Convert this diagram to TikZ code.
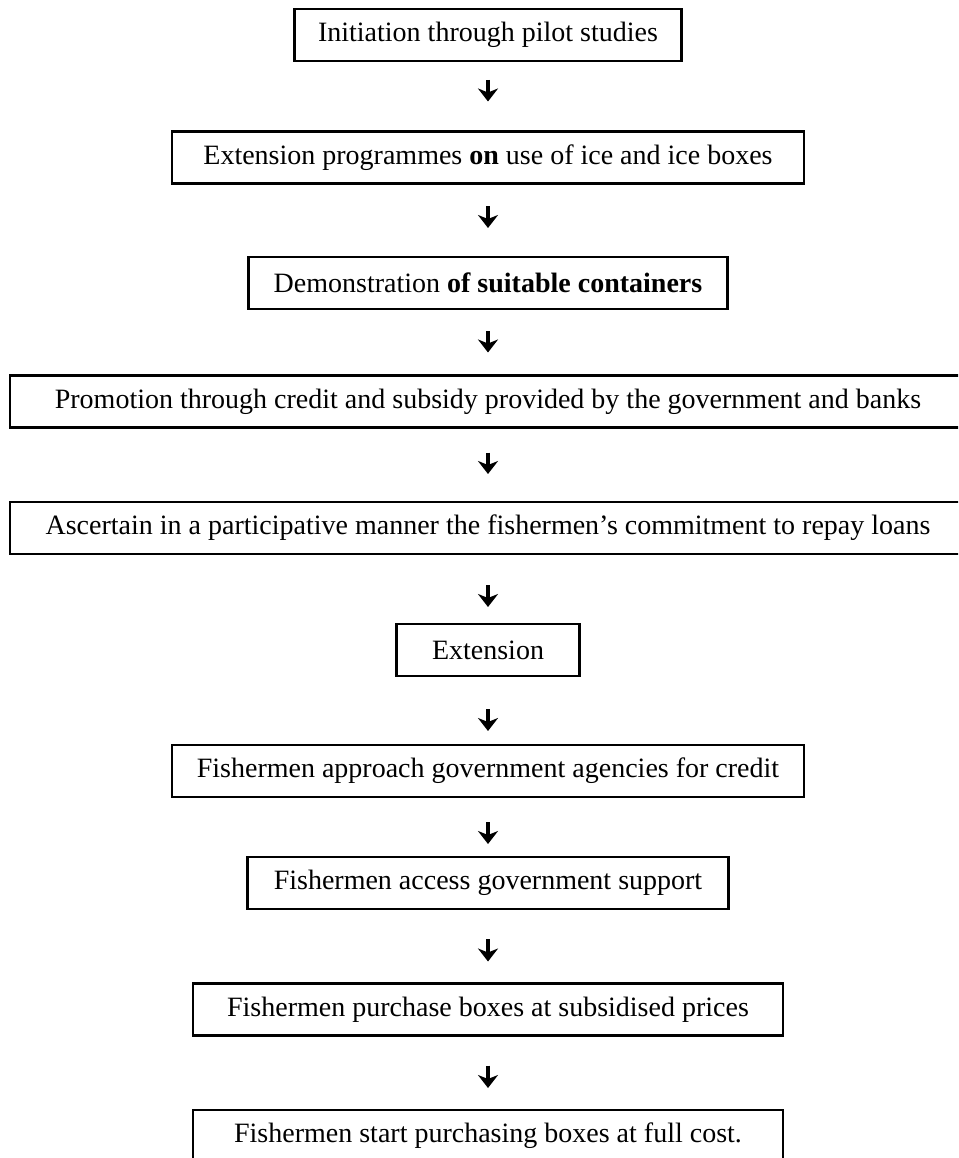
\documentclass[tikz,border=0pt]{standalone}
\usepackage{fontspec}
\setmainfont{Liberation Serif}
\usetikzlibrary{arrows.meta}

\begin{document}
\begin{tikzpicture}[x=1pt, y=-1pt,
  stepbox/.style={draw, line width=2.2pt, inner sep=0pt, outer sep=0pt,
    minimum height=52pt, align=center,
    font=\fontsize{28}{32}\selectfont},
  flow/.style 2 args={line width=4pt,
    -{Stealth[width=20pt, length=13pt, inset=4pt]},
    shorten <=#1pt, shorten >=#2pt}]

\useasboundingbox (0,0) rectangle (958,1158);
\clip (0,0) rectangle (958,1158);

% process steps, top to bottom
\node[stepbox, minimum width=387pt] (s1) at (488,35)
  {Initiation through pilot studies};
\node[stepbox, minimum width=632pt] (s2) at (488,157.5)
  {Extension programmes \textbf{on} use of ice and ice boxes};
\node[stepbox, minimum width=479pt] (s3) at (488,283)
  {Demonstration \textbf{of suitable containers}};
\node[stepbox, minimum width=956pt] (s4) at (488,401.5)
  {Promotion through credit and subsidy provided by the government and banks};
\node[stepbox, minimum width=956pt] (s5) at (488,528)
  {Ascertain in a participative manner the fishermen’s commitment to repay loans};
\node[stepbox, minimum width=183pt] (s6) at (488,650)
  {Extension};
\node[stepbox, minimum width=632pt] (s7) at (488,771)
  {Fishermen approach government agencies for credit};
\node[stepbox, minimum width=481pt] (s8) at (488,883)
  {Fishermen access government support};
\node[stepbox, minimum width=590pt] (s9) at (488,1009.5)
  {Fishermen purchase boxes at subsidised prices};
\node[stepbox, minimum width=590pt] (s10) at (488,1136)
  {Fishermen start purchasing boxes at full cost.};

% short arrows between consecutive steps
\draw[flow={19}{30}] (s1) -- (s2);
\draw[flow={23}{29}] (s2) -- (s3);
\draw[flow={22}{23}] (s3) -- (s4);
\draw[flow={25}{28}] (s4) -- (s5);
\draw[flow={31}{17}] (s5) -- (s6);
\draw[flow={33}{14}] (s6) -- (s7);
\draw[flow={25}{13}] (s7) -- (s8);
\draw[flow={30}{22}] (s8) -- (s9);
\draw[flow={30}{22}] (s9) -- (s10);

\end{tikzpicture}
\end{document}
